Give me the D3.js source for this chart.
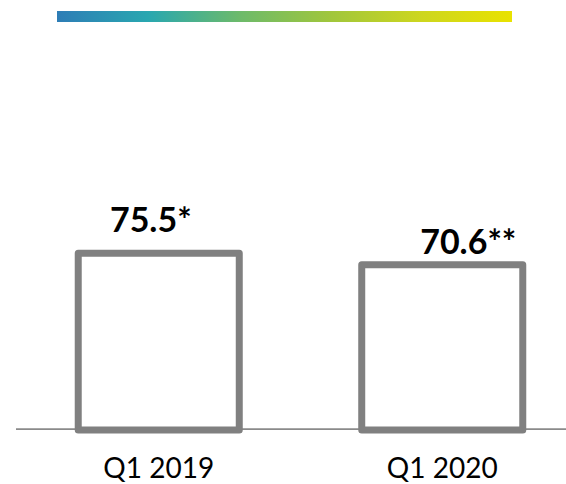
<!DOCTYPE html>
<html>
<head>
<meta charset="utf-8">
<script src="https://cdn.jsdelivr.net/npm/d3@7"></script>
<style>
  body { margin: 0; background: #fff; }
  svg { display: block; }
</style>
</head>
<body>
<script>
(function() {

  const width = 566;
  const height = 484;

  // chart data
  const categories = ["Q1 2019", "Q1 2020"];
  const values = [75.5, 70.6];
  const valueLabels = ["75.5*", "70.6**"];

  // gradient header colours
  const gradientColors = ["#2e7db6", "#29a7b0", "#6cba6b", "#a0c63c", "#cdd61f", "#e9e200"];

  // label nudges (as placed in the original slide)
  const labelDx = [-8, 26];
  const labelDy = [-21, -11];

  const svg = d3.select("body").append("svg")
    .attr("width", width)
    .attr("height", height);

  // gradient strip at the top
  const grad = svg.append("defs").append("linearGradient")
    .attr("id", "topGrad")
    .attr("x1", "0%").attr("x2", "100%")
    .attr("y1", "0%").attr("y2", "0%");
  grad.selectAll("stop")
    .data(gradientColors)
    .enter()
    .append("stop")
    .attr("offset", (d, i) => (i / (gradientColors.length - 1) * 100) + "%")
    .attr("stop-color", d => d);

  svg.append("rect")
    .attr("x", 57)
    .attr("y", 11)
    .attr("width", 455)
    .attr("height", 11)
    .attr("fill", "url(#topGrad)");

  // scales
  let x = d3.scaleBand()
    .domain(categories)
    .range([17, 584])
    .paddingInner(0.432)
    .paddingOuter(0.216);

  let y = d3.scaleLinear()
    .domain([0, 100])
    .range([430, 196]);

  // baseline
  svg.append("line")
    .attr("x1", 16)
    .attr("x2", width)
    .attr("y1", 429.2)
    .attr("y2", 429.2)
    .style("stroke", "#8a8a8a")
    .style("stroke-width", 1.8);

  // bars (outline only)
  svg.selectAll(".bar")
    .data(values)
    .enter()
    .append("rect")
    .attr("class", "bar")
    .attr("x", (d, i) => x(categories[i]))
    .attr("y", d => y(d))
    .attr("width", x.bandwidth())
    .attr("height", d => y(0) - y(d))
    .style("fill", "none")
    .style("stroke", "#808080")
    .style("stroke-width", 7)
    .style("stroke-linejoin", "round");

  // value labels
  svg.selectAll(".val")
    .data(values)
    .enter()
    .append("text")
    .attr("class", "val")
    .attr("x", (d, i) => x(categories[i]) + x.bandwidth() / 2 + labelDx[i])
    .attr("y", (d, i) => y(d) + labelDy[i])
    .attr("text-anchor", "middle")
    .style("font-family", "Lato, 'DejaVu Sans', sans-serif")
    .style("font-weight", "bold")
    .style("font-size", "34px")
    .style("fill", "#000")
    .text((d, i) => valueLabels[i]);

  // category axis
  let xAxis = d3.axisBottom(x).tickSize(0).tickPadding(0);
  let gx = svg.append("g")
    .attr("transform", "translate(0, 430)")
    .call(xAxis);
  gx.select(".domain").remove();
  gx.selectAll("text")
    .attr("dy", null)
    .attr("y", 48)
    .style("font-family", "Lato, 'DejaVu Sans', sans-serif")
    .style("font-size", "28px")
    .style("fill", "#000");

})();
</script>
</body>
</html>
